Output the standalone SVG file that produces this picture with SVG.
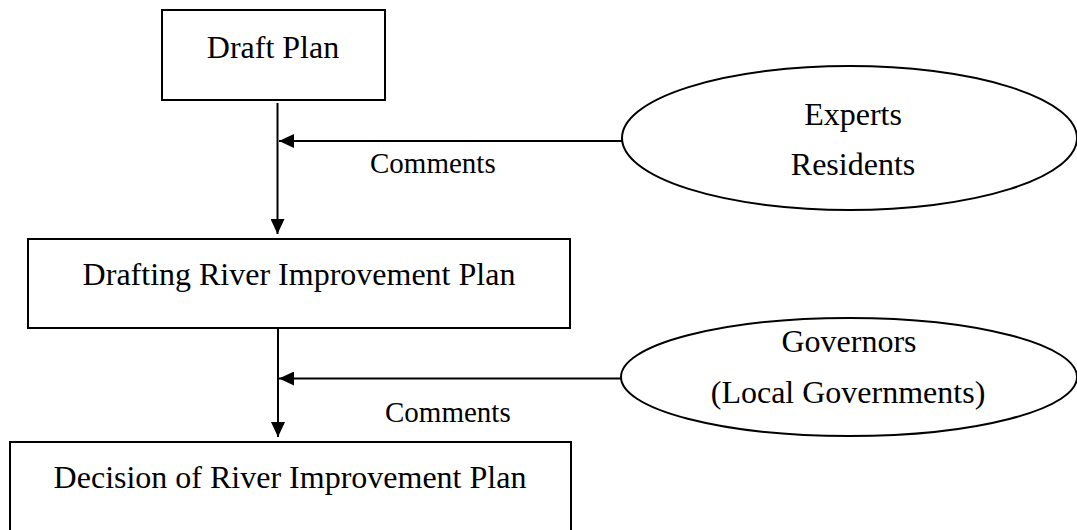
<svg xmlns="http://www.w3.org/2000/svg" width="1077" height="530" viewBox="0 0 1077 530">
<style>
.box{fill:#fff;stroke:#000;stroke-width:2}
.ell{fill:#fff;stroke:#000;stroke-width:2}
.t{font-family:"Liberation Serif","Times New Roman",serif;font-size:32px;fill:#000;text-anchor:middle}
.c{font-family:"Liberation Serif","Times New Roman",serif;font-size:29px;fill:#000}
.ln{stroke:#000;stroke-width:2;fill:none}
</style>
<defs>
<marker id="ah" markerUnits="userSpaceOnUse" markerWidth="16" markerHeight="14" refX="15" refY="7" orient="auto">
<path d="M0,0 L15,7 L0,14 Z" fill="#000"/>
</marker>
</defs>
<rect width="1077" height="530" fill="#fff"/>
<g id="connectors">
<line class="ln" x1="277.5" y1="103" x2="277.5" y2="234" marker-end="url(#ah)"/>
<line class="ln" x1="622" y1="141" x2="279" y2="141" marker-end="url(#ah)"/>
<line class="ln" x1="278" y1="328" x2="278" y2="437" marker-end="url(#ah)"/>
<line class="ln" x1="621" y1="378.5" x2="279" y2="378.5" marker-end="url(#ah)"/>
<text class="c" x="370" y="173">Comments</text>
<text class="c" x="385" y="422">Comments</text>
</g>
<g id="draft-plan">
<rect class="box" x="162" y="10" width="223" height="90"/>
<text class="t" x="273" y="58">Draft Plan</text>
</g>
<g id="drafting">
<rect class="box" x="28" y="239" width="542" height="89"/>
<text class="t" x="299" y="285">Drafting River Improvement Plan</text>
</g>
<g id="decision">
<rect class="box" x="10" y="442" width="561" height="100"/>
<text class="t" x="290" y="488">Decision of River Improvement Plan</text>
</g>
<g id="experts">
<ellipse class="ell" cx="849.5" cy="138" rx="227.5" ry="72"/>
<text class="t" x="853" y="125">Experts</text>
<text class="t" x="853" y="175">Residents</text>
</g>
<g id="governors">
<ellipse class="ell" cx="849" cy="377" rx="228" ry="59"/>
<text class="t" x="849" y="352">Governors</text>
<text class="t" x="848" y="403">(Local Governments)</text>
</g>
</svg>
